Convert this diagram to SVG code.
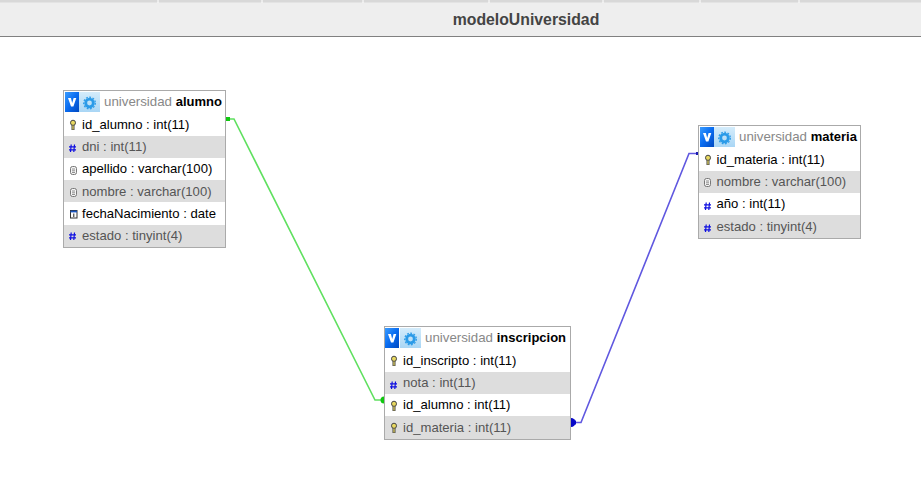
<svg xmlns="http://www.w3.org/2000/svg" width="921" height="501" viewBox="0 0 921 501">
<defs>
<linearGradient id="vg" x1="0" y1="0" x2="1" y2="1"><stop offset="0" stop-color="#3a9cff"/><stop offset=".5" stop-color="#0a6cf0"/><stop offset="1" stop-color="#0048c0"/></linearGradient>
<linearGradient id="gb" x1="0" y1="0" x2="0" y2="1"><stop offset="0" stop-color="#d4ecfb"/><stop offset="1" stop-color="#a9d6f5"/></linearGradient>
<g id="v"><rect width="14" height="20" fill="url(#vg)"/><path d="M3 6h2.900l1.300 5 1.400-5h2.700l-2.900 8.500h-2.400z" fill="#fff"/></g>
<g id="gear"><rect width="21" height="20" fill="url(#gb)"/><circle cx="10.500" cy="11" r="3.800" fill="none" stroke="#2b9be8" stroke-width="2.800"/><circle cx="10.500" cy="11" r="5.800" fill="none" stroke="#2b9be8" stroke-width="1.300" stroke-dasharray="1.800 1.500"/></g>
<g id="key"><ellipse cx="3" cy="2.800" rx="2.500" ry="2.600" fill="#e8d860" stroke="#444" stroke-width="1"/><path d="M3 5v5" stroke="#444" stroke-width="3"/><path d="M3 5.500v4" stroke="#e8d860" stroke-width="1.200"/></g>
<g id="hash"><path d="M2.200 0.500 1.500 8M5.500 0.500 4.800 8M0 2.800h7M0 5.800h7" stroke="#1010e0" stroke-width="1.200" fill="none"/></g>
<g id="txt"><rect x=".5" y=".5" width="6" height="8" rx="2" fill="#f4f4f4" stroke="#777"/><path d="M2 3h3M2 4.800h3M2 6.500h3" stroke="#777" stroke-width=".8"/></g>
<g id="date"><rect x=".5" y=".5" width="6.500" height="7.500" fill="#fff" stroke="#333"/><path d="M.5 1.500h6.500" stroke="#1a55c0" stroke-width="1.800"/><path d="M3.800 3.500v3.500" stroke="#222"/></g>
</defs>
<style>
text{font-family:"Liberation Sans",Arial,sans-serif}
.t{font-size:13.100px}
.f{font-size:13.100px;fill:#000}
.g{fill:#dddddd}
.b{fill:#555}
.box{fill:#fff;stroke:#aaa;stroke-width:1}
.db{fill:#888;font-size:13.300px;font-weight:normal}
.nm{fill:#000;font-weight:bold;font-size:13px}
</style>
<rect width="921" height="501" fill="#fff"/>
<g id="topbar">
<rect width="921" height="37" fill="#eeeeee"/>
<rect width="921" height="2.500" fill="#d8d8d8"/>
<path d="M158 0v3M262 0v3M363 0v3M489 0v3M603 0v3M700 0v3M799 0v3" stroke="#fff"/>
<path d="M0 36.500H921" stroke="#808080"/>
<text x="526" y="25" text-anchor="middle" font-size="15.800" font-weight="bold" fill="#444">modeloUniversidad</text>
</g>
<g id="connectors" fill="none">
<path d="M226 119H234L375 400H384" stroke="#60e060" stroke-width="1.600"/>
<path d="M226 117h4v4h-4z" fill="#10c810"/>
<path d="M384 396.500a3.500 3.500 0 0 0 0 7z" fill="#10c810"/>
<path d="M571 422.500H581L689 153.500H698" stroke="#6058e0" stroke-width="1.600"/>
<path d="M571 418a4.500 4.500 0 0 1 0 9z" fill="#0808c8"/>
<path d="M571 420.500h5v4h-5z" fill="#0808c8"/>
<path d="M696 152h2v3h-2z" fill="#1a1ab0"/>
</g>
<g id="alumno">
<rect class="box" x="63.500" y="90.500" width="162" height="157"/>
<rect class="g" x="64" y="136" width="161" height="22"/><rect class="g" x="64" y="180" width="161" height="22"/><rect class="g" x="64" y="225" width="161" height="22"/>
<use href="#v" x="65" y="92"/><use href="#gear" x="79" y="92"/>
<text x="104" y="106"><tspan class="db">universidad </tspan><tspan class="nm">alumno</tspan></text>
<use href="#key" x="70" y="120"/><text class="f" x="82" y="129">id_alumno : int(11)</text>
<use href="#hash" x="69" y="144"/><text class="t b" x="82" y="151">dni : int(11)</text>
<use href="#txt" x="70" y="166"/><text class="f" x="82" y="173">apellido : varchar(100)</text>
<use href="#txt" x="70" y="188"/><text class="t b" x="82" y="196">nombre : varchar(100)</text>
<use href="#date" x="70" y="210"/><text class="f" x="82" y="218">fechaNacimiento : date</text>
<use href="#hash" x="69" y="232"/><text class="t b" x="82" y="240">estado : tinyint(4)</text>
</g>
<g id="inscripcion">
<rect class="box" x="384.500" y="326.500" width="186" height="113"/>
<rect class="g" x="385" y="372" width="185" height="22"/><rect class="g" x="385" y="416" width="185" height="23"/>
<use href="#v" x="385" y="328"/><use href="#gear" x="400" y="328"/>
<text x="425" y="342"><tspan class="db">universidad </tspan><tspan class="nm">inscripcion</tspan></text>
<use href="#key" x="391" y="356"/><text class="f" x="403" y="365">id_inscripto : int(11)</text>
<use href="#hash" x="390" y="381"/><text class="t b" x="403" y="387">nota : int(11)</text>
<use href="#key" x="391" y="401"/><text class="f" x="403" y="409">id_alumno : int(11)</text>
<use href="#key" x="391" y="423"/><text class="t b" x="403" y="432">id_materia : int(11)</text>
</g>
<g id="materia">
<rect class="box" x="698.500" y="125.500" width="162" height="113"/>
<rect class="g" x="699" y="171" width="161" height="22"/><rect class="g" x="699" y="215" width="161" height="23"/>
<use href="#v" x="700" y="127"/><use href="#gear" x="714" y="127"/>
<text x="739" y="141"><tspan class="db">universidad </tspan><tspan class="nm">materia</tspan></text>
<use href="#key" x="705" y="155"/><text class="f" x="716.500" y="164">id_materia : int(11)</text>
<use href="#txt" x="704" y="178"/><text class="t b" x="716.500" y="186">nombre : varchar(100)</text>
<use href="#hash" x="704" y="202"/><text class="f" x="716.500" y="208">año : int(11)</text>
<use href="#hash" x="704" y="224"/><text class="t b" x="716.500" y="231">estado : tinyint(4)</text>
</g>
</svg>
